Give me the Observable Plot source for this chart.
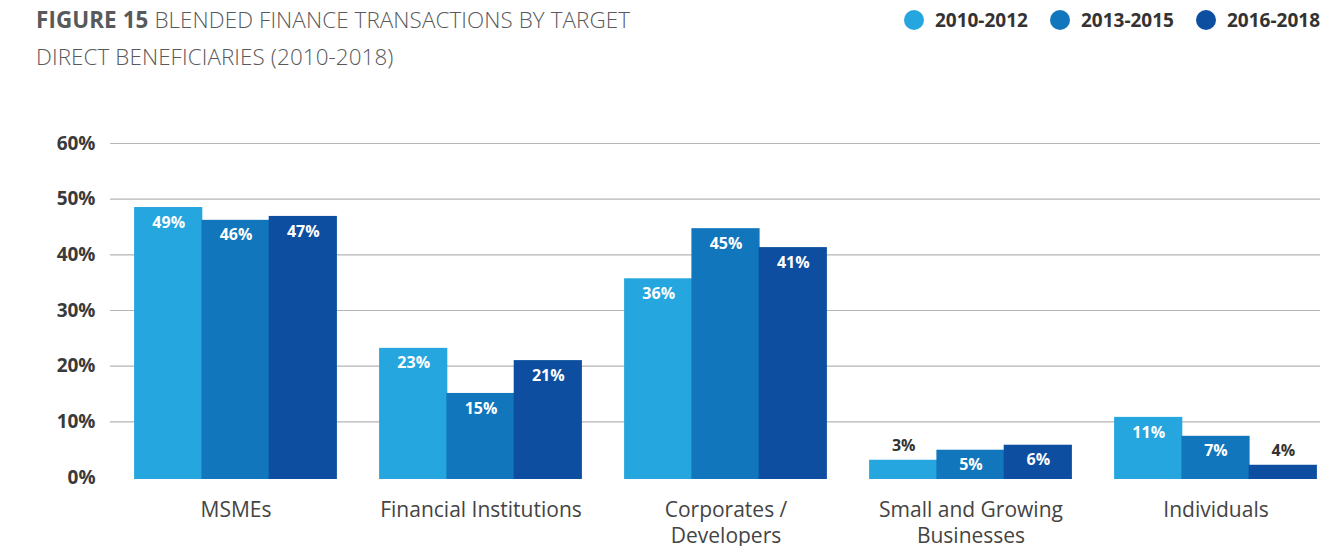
<!DOCTYPE html>
<html><head><meta charset="utf-8">
<script src="https://cdn.jsdelivr.net/npm/d3@7"></script>
<script src="https://cdn.jsdelivr.net/npm/@observablehq/plot@0.6"></script>
<style>
body{margin:0;width:1336px;height:546px;position:relative;font-family:"Open Sans",sans-serif;background:#fff;overflow:hidden}
#title{position:absolute;left:36px;top:1px;font-size:22.4px;line-height:37px;color:#58595b;font-weight:300;letter-spacing:0.1px}
#title b{font-weight:700}
#legend{position:absolute;right:16px;top:7px;display:flex;gap:22px;font-size:19px;font-weight:700;color:#333}
#legend span{display:flex;align-items:center}
#legend i{display:inline-block;width:20px;height:20px;border-radius:50%;margin-right:11px}
#ylab{position:absolute;left:18px;top:310px;transform:translate(-50%,-50%) rotate(-90deg);font-size:18px;font-style:italic;font-weight:300;color:#888;white-space:nowrap}
#chart{position:absolute;left:0;top:100px}
</style></head>
<body>
<div id="title"><b>FIGURE 15</b> BLENDED FINANCE TRANSACTIONS BY TARGET<br>DIRECT BENEFICIARIES (2010-2018)</div>
<div id="legend"></div>
<div id="ylab">Percent of transactions</div>
<div id="chart"></div>
<script>
const categories = ["MSMEs", "Financial Institutions", "Corporates /\nDevelopers", "Small and Growing\nBusinesses", "Individuals"];
const periods = ["2010-2012", "2013-2015", "2016-2018"];
const colors = ["#25a6de", "#1176bc", "#0d4ea0"];
const values2010 = [48.5, 23.2, 35.7, 3.1, 10.8];
const values2013 = [46.2, 15.1, 44.7, 4.9, 7.4];
const values2016 = [46.9, 21.0, 41.3, 5.8, 2.2];
const labels2010 = ["49%", "23%", "36%", "3%", "11%"];
const labels2013 = ["46%", "15%", "45%", "5%", "7%"];
const labels2016 = ["47%", "21%", "41%", "6%", "4%"];
const yTicks = [0, 10, 20, 30, 40, 50, 60];

const seriesVals = [values2010, values2013, values2016];
const seriesLabels = [labels2010, labels2013, labels2016];
const data = [];
categories.forEach((c, i) => periods.forEach((p, j) => data.push({category: c, period: p, value: seriesVals[j][i], label: seriesLabels[j][i]})));

const leg = document.getElementById("legend");
periods.forEach((p, j) => { const s = document.createElement("span"); s.innerHTML = `<i style="background:${colors[j]}"></i>${p}`; leg.appendChild(s); });

const barW = 67.3;
const inside = d => !(d.value < 4.5);
const marks = [
  Plot.ruleY(yTicks.filter(t => t > 0), {stroke: "#b5b5b5", strokeWidth: 1.2}),
  Plot.axisY({ticks: yTicks, tickSize: 0, tickPadding: 15, tickFormat: d => d + "%", fontSize: 19, fontWeight: 700, fill: "#3a3a3a", label: null}),
  Plot.axisX({tickSize: 0, tickPadding: 21, fontSize: 21, fill: "#444", lineHeight: 1.25, label: null})
];
periods.forEach((p, j) => {
  const sub = data.filter(d => d.period === p);
  const dx = (j - 1) * barW;
  marks.push(
    Plot.barY(sub, {x: "category", y: "value", fill: "period", dx, insetBottom: -2, insetLeft: -0.6, insetRight: -0.6})
  );
});
periods.forEach((p, j) => {
  const sub = data.filter(d => d.period === p);
  const dx = (j - 1) * barW;
  marks.push(
    Plot.text(sub.filter(inside), {x: "category", y: "value", text: "label", dx, dy: 15, fill: "white", fontSize: 16, fontWeight: 700}),
    Plot.text(sub.filter(d => !inside(d)), {x: "category", y: "value", text: "label", dx, dy: -14, fill: "#333", fontSize: 16, fontWeight: 700})
  );
});
const chart = Plot.plot({
  width: 1336, height: 446,
  marginLeft: 110, marginRight: 16, marginTop: 43, marginBottom: 69,
  style: {fontFamily: "Open Sans, sans-serif", background: "#fff"},
  x: {domain: categories, paddingInner: 0.7259, paddingOuter: 0.328, align: 0.568},
  y: {domain: [0, 60]},
  color: {domain: periods, range: colors},
  marks
});
document.getElementById("chart").appendChild(chart);
</script>
</body></html>
